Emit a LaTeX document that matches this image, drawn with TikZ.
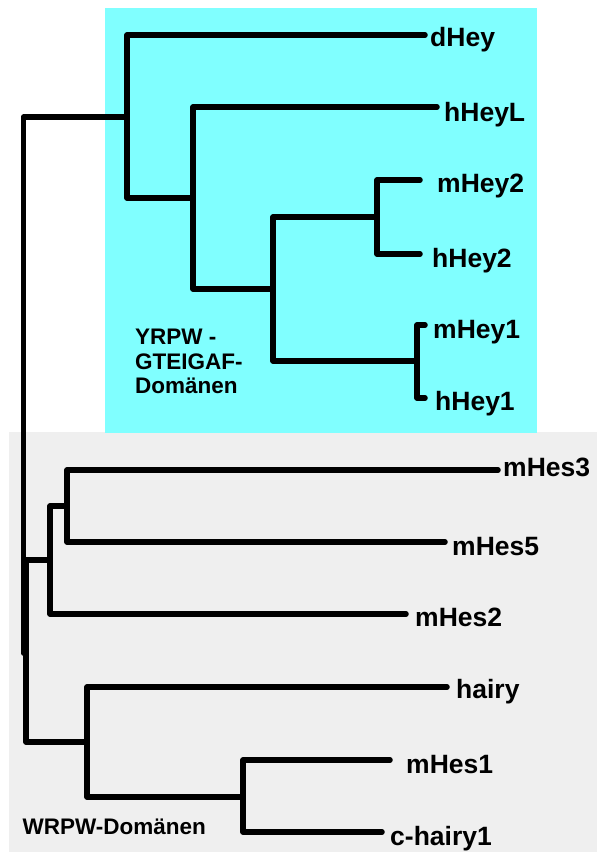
\documentclass[tikz,border=0pt]{standalone}
\usepackage{fontspec}
\setmainfont{Liberation Sans}
\usetikzlibrary{positioning}
\definecolor{heycyan}{HTML}{80FFFF}
\definecolor{hesgrey}{HTML}{EFEFEF}

\begin{document}
\begin{tikzpicture}[
  x=1pt,y=-1pt,
  font=\bfseries,
  branch/.style={draw=black,line width=5.5pt,line cap=round,line join=round},
  leaf/.style={font=\fontsize{26.5}{30}\selectfont\bfseries,anchor=base west,inner sep=0pt},
  grouplabel/.style={font=\fontsize{22.5}{24.5}\selectfont\bfseries,anchor=south west,inner sep=0pt,align=left},
]
\useasboundingbox (0,0) rectangle (597,852);
\fill[hesgrey] (9,432) rectangle (597,852);
\fill[heycyan] (105,8) rectangle (537,433);

\node[grouplabel] (yrpw) at (135,394) {YRPW -\\GTEIGAF-\\Domänen};
\node[grouplabel] (wrpw) at (22.5,835) {WRPW-Domänen};

\coordinate (root) at (23.5,400);
\coordinate (A) at (127,117);
\coordinate (B) at (193,198);
\coordinate (C) at (273,289);
\coordinate (D) at (377,217);
\coordinate (E) at (417,361);
\coordinate (hes) at (26,653);
\coordinate (F) at (50,560);
\coordinate (G) at (67,506);
\coordinate (H) at (87,742);
\coordinate (I) at (243,797);

\foreach \name/\tx/\ty/\lx/\by in {
dHey/425/35/430/46,
hHeyL/437/107/444/121,
mHey2/420/180/437/192,
hHey2/420/254/432/267,
mHey1/425/325/433/338,
hHey1/425/398/435/410,
mHes3/498/470/503/476,
mHes5/445/542/452/555,
mHes2/406/614/415/626,
hairy/447/687/456/698,
mHes1/390/760/406/773,
c-hairy1/382/832/390/845}
{
  \coordinate (t\name) at (\tx,\ty);
  \node[leaf] (\name) at (\lx,\by) {\name};
}

\foreach \p/\c in {root/A,root/hes,A/tdHey,A/B,B/thHeyL,B/C,C/D,C/E,D/tmHey2,D/thHey2,E/tmHey1,E/thHey1,
  hes/F,hes/H,F/G,F/tmHes2,G/tmHes3,G/tmHes5,H/thairy,H/I,I/tmHes1,I/tc-hairy1}
  \draw[branch] (\p) |- (\c);
\end{tikzpicture}
\end{document}
